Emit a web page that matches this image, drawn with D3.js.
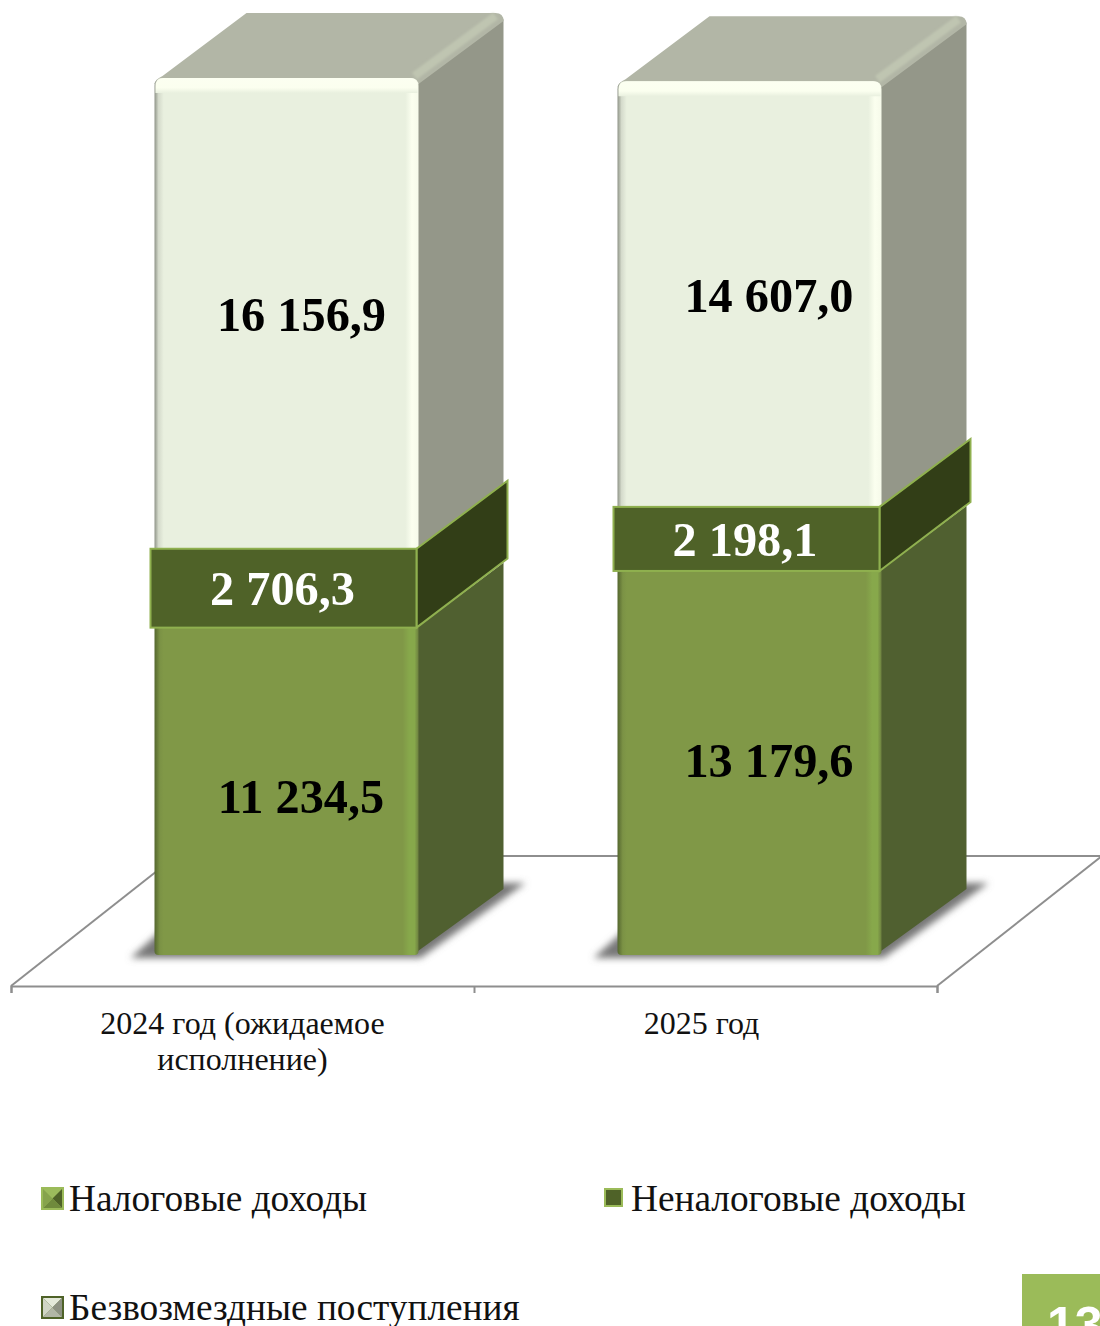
<!DOCTYPE html>
<html>
<head>
<meta charset="utf-8">
<script src="https://cdn.jsdelivr.net/npm/d3@7"></script>
<style>
  html, body { margin: 0; padding: 0; background: #fff; }
  svg { display: block; }
  text { font-family: "Liberation Serif", serif; }
</style>
</head>
<body>
<svg id="chart"></svg>
<script>
const width = 1100;
const height = 1326;

const categories = ['2024 год (ожидаемое исполнение)', '2025 год'];
const categoryLines = [['2024 год (ожидаемое', 'исполнение)'], ['2025 год']];
const taxIncome = [11234.5, 13179.6];
const nonTaxIncome = [2706.3, 2198.1];
const grants = [16156.9, 14607.0];
const seriesNames = ['Налоговые доходы', 'Неналоговые доходы', 'Безвозмездные поступления'];
const pageNumber = '13';

const svg = d3.select('#chart')
    .attr('width', width)
    .attr('height', height);

const x = d3.scaleBand().domain(categories).range([11, 937]);
const xEdge = d3.scaleLinear().domain([0, 2]).range([11, 937]);
const y = d3.scaleLinear().domain([0, 35000]).range([955, 955 - 35000 * 0.02914]);

const ru = d3.formatLocale({decimal: ',', thousands: ' ', grouping: [3], currency: ['', '']});
const fmt = ru.format(',.1f');

const barInset = 143.5, barWidth = 264;
const depthX = 85, depthY = 65;
const line = d3.line();

const defs = svg.append('defs');

function hGradient(id, stops) {
  const g = defs.append('linearGradient').attr('id', id);
  stops.forEach(s => g.append('stop').attr('offset', s[0]).attr('stop-color', s[1]));
}
function vGradient(id, stops) {
  const g = defs.append('linearGradient').attr('id', id)
      .attr('x1', 0).attr('x2', 0).attr('y1', 0).attr('y2', 1);
  stops.forEach(s => g.append('stop').attr('offset', s[0]).attr('stop-color', s[1]).attr('stop-opacity', s[2]));
}
hGradient('front-tax', [[0, '#55672f'], [0.02, '#7b9245'], [0.035, '#809847'], [0.94, '#809847'], [0.965, '#87a84b'], [0.985, '#87a84b'], [1, '#6d8040']]);
hGradient('front-grant', [[0, '#8f9488'], [0.015, '#d4dacb'], [0.035, '#e9f0df'], [0.95, '#e9f0df'], [0.975, '#fbffef'], [1, '#f6faea']]);
vGradient('bevel-grant', [[0, '#fcfff1', 1], [0.65, '#fbffef', 1], [1, '#e9f0df', 1]]);

defs.append('filter').attr('id', 'soft')
    .attr('x', '-20%').attr('y', '-30%').attr('width', '140%').attr('height', '160%')
  .append('feGaussianBlur').attr('stdDeviation', 3.5);
defs.append('filter').attr('id', 'soft-line')
  .append('feGaussianBlur').attr('stdDeviation', 1);

// rect with separately rounded top and bottom corners
function frontPath(x0, x1, y0, y1, rTop, rBottom) {
  const p = d3.path();
  p.moveTo(x0 + rTop, y0);
  p.lineTo(x1 - rTop, y0);
  p.quadraticCurveTo(x1, y0, x1, y0 + rTop);
  p.lineTo(x1, y1 - rBottom);
  p.quadraticCurveTo(x1, y1, x1 - rBottom, y1);
  p.lineTo(x0 + rBottom, y1);
  p.quadraticCurveTo(x0, y1, x0, y1 - rBottom);
  p.lineTo(x0, y0 + rTop);
  p.quadraticCurveTo(x0, y0, x0 + rTop, y0);
  p.closePath();
  return p.toString();
}

// floor
const floorDx = 165, floorDy = 130;
const floorY = 986;
const floor = svg.append('g')
    .attr('fill', 'none')
    .attr('stroke', '#8e8e8e')
    .attr('stroke-width', 2);
floor.append('path').attr('d', line([[xEdge(0), floorY], [xEdge(0) + floorDx, floorY - floorDy]]));
floor.append('path').attr('d', line([[xEdge(0) + floorDx, floorY - floorDy], [xEdge(2) + floorDx, floorY - floorDy]]));
floor.append('path').attr('d', line([[xEdge(2), floorY], [xEdge(2) + floorDx, floorY - floorDy]]));

const axis = d3.axisBottom(xEdge)
    .tickValues([0, 1, 2])
    .tickSize(7)
    .tickFormat('');
const axisG = svg.append('g')
    .attr('transform', `translate(0, ${floorY})`)
    .call(axis);
axisG.select('.domain').attr('stroke', '#8e8e8e').attr('stroke-width', 2);
axisG.selectAll('.tick line').attr('stroke', '#8e8e8e').attr('stroke-width', 2);

// category labels
const catLabelDx = [0, -4];
categories.forEach((c, i) => {
  const t = svg.append('text')
      .attr('text-anchor', 'middle')
      .attr('font-size', 32)
      .attr('fill', '#111');
  categoryLines[i].forEach((s, k) => {
    t.append('tspan')
        .attr('x', x(c) + x.bandwidth() / 2 + catLabelDx[i])
        .attr('y', 1034 + k * 36)
        .text(s);
  });
});

const bars = svg.append('g');
const labels = svg.append('g').attr('font-weight', 'bold').attr('font-size', 48.3).attr('text-anchor', 'middle');

const labelDx = [[15, 19.5], [-4, -4.5], [14.5, 19.5]];
const labelDy = [[18, 18], [17, 17], [22, 14]];

categories.forEach((c, i) => {
  const g = bars.append('g');
  const x0 = x(c) + barInset;
  const x1 = x0 + barWidth;
  const v0 = taxIncome[i];
  const v1 = v0 + nonTaxIncome[i];
  const v2 = v1 + grants[i];

  // shadow on the floor
  g.append('path')
      .attr('d', line([[x0 - 24, y(0) + 3], [x1 + 2, y(0) + 3], [x1 + depthX + 22, y(0) - 72], [x0 + 60, y(0) - 72]]) + 'Z')
      .attr('fill', '#777')
      .attr('filter', 'url(#soft)');

  // tax segment
  g.append('path')
      .attr('d', line([[x1 - 6, y(0)], [x1 + depthX, y(0) - depthY - 1], [x1 + depthX, y(v0) - depthY], [x1 - 2, y(v0)]]) + 'Z')
      .attr('fill', '#506030');
  g.append('path')
      .attr('d', frontPath(x0, x1, y(v0), y(0), 0, 4))
      .attr('fill', 'url(#front-tax)');

  // grants segment
  g.append('path')
      .attr('d', line([[x1 - 2, y(v1)], [x1 + depthX, y(v1) - depthY], [x1 + depthX, y(v2) - depthY + 6], [x1 - 2, y(v2) + 4]]) + 'Z')
      .attr('fill', '#949789');
  g.append('path')
      .attr('d', `M${x0},${y(v2) + 6} Q${x0 + 1},${y(v2) + 1} ${x0 + 8},${y(v2) - 2} L${x0 + 92},${y(v2) - depthY} L${x1 + depthX - 8},${y(v2) - depthY} Q${x1 + depthX},${y(v2) - depthY} ${x1 + depthX},${y(v2) - depthY + 8} L${x1},${y(v2) + 6} Z`)
      .attr('fill', '#b2b6a6');
  g.append('path')
      .attr('d', line([[x1 - 4, y(v2) - 2], [x1 + depthX - 8, y(v2) - depthY + 3]]))
      .attr('stroke', '#bfc5b1')
      .attr('stroke-width', 8)
      .attr('filter', 'url(#soft-line)');
  g.append('path')
      .attr('d', frontPath(x0, x1, y(v2), y(v1), 8, 0))
      .attr('fill', 'url(#front-grant)');
  g.append('path')
      .attr('d', frontPath(x0 + 1, x1 - 1, y(v2), y(v2) + 15, 8, 0))
      .attr('fill', 'url(#bevel-grant)');

  // non-tax segment sits a bit proud of the others
  g.append('path')
      .attr('d', line([[x1 - 2, y(v1)], [x1 + depthX + 4, y(v1) - depthY - 3], [x1 + depthX + 4, y(v0) - depthY - 4], [x1 - 2, y(v0)]]) + 'Z')
      .attr('fill', '#323e17')
      .attr('stroke', '#8fb04f')
      .attr('stroke-width', 2);
  g.append('rect')
      .attr('x', x0 - 4)
      .attr('y', y(v1))
      .attr('width', barWidth + 2)
      .attr('height', y(v0) - y(v1))
      .attr('fill', '#4f6228')
      .attr('stroke', '#8fb04f')
      .attr('stroke-width', 2);

  // value labels
  const cx = (x0 + x1) / 2;
  [[grants[i], v1, v2, '#000'], [nonTaxIncome[i], v0, v1, '#fff'], [taxIncome[i], 0, v0, '#000']].forEach((s, k) => {
    labels.append('text')
        .attr('x', cx + labelDx[k][i])
        .attr('y', (y(s[1]) + y(s[2])) / 2 + labelDy[k][i])
        .attr('fill', s[3])
        .text(fmt(s[0]));
  });
});
bars.raise();
labels.raise();

// legend
const legendPos = [{sx: 41, sw: 23, sy: 1187, tx: 69, ty: 1211}, {sx: 604, sw: 19, sy: 1188, tx: 631, ty: 1211}, {sx: 41, sw: 23, sy: 1296, tx: 69, ty: 1320}];
const pyramids = [
  {edge: '#9bbb59', t: '#9cbb5c', r: '#4f6228', b: '#6f8a3c', l: '#86a34c', c: '#50622b'},
  null,
  {edge: '#4f6228', t: '#e4e9da', r: '#8d9183', b: '#b2b6a6', l: '#d0d5c5', c: '#9a9e90'}
];
seriesNames.forEach((name, i) => {
  const p = legendPos[i];
  const s = p.sw;
  const g = svg.append('g').attr('transform', `translate(${p.sx}, ${p.sy})`);
  if (pyramids[i]) {
    const c = pyramids[i];
    const m = s / 2;
    g.append('rect').attr('width', s).attr('height', s).attr('fill', c.edge);
    const a = 2, b = s - 2;
    [[[a, a], [b, a], c.t], [[b, a], [b, b], c.r], [[b, b], [a, b], c.b], [[a, b], [a, a], c.l]].forEach(f => {
      g.append('path').attr('d', line([f[0], f[1], [m, m]]) + 'Z').attr('fill', f[2]);
    });
  } else {
    g.append('rect').attr('x', 1).attr('y', 1).attr('width', s - 2).attr('height', s - 2)
        .attr('fill', '#4f6228').attr('stroke', '#9bbb59').attr('stroke-width', 2);
  }
  svg.append('text')
      .attr('x', p.tx)
      .attr('y', p.ty)
      .attr('font-size', 37.3)
      .attr('fill', '#111')
      .text(name);
});

// page number block
svg.append('rect')
    .attr('x', 1022).attr('y', 1274)
    .attr('width', 78).attr('height', 52)
    .attr('fill', '#9bbb59');
svg.append('text')
    .attr('x', 1047).attr('y', 1342)
    .attr('font-size', 50)
    .attr('font-weight', 'bold')
    .style('font-family', '"Liberation Sans", sans-serif')
    .attr('fill', '#fff')
    .text(pageNumber);
</script>
</body>
</html>
